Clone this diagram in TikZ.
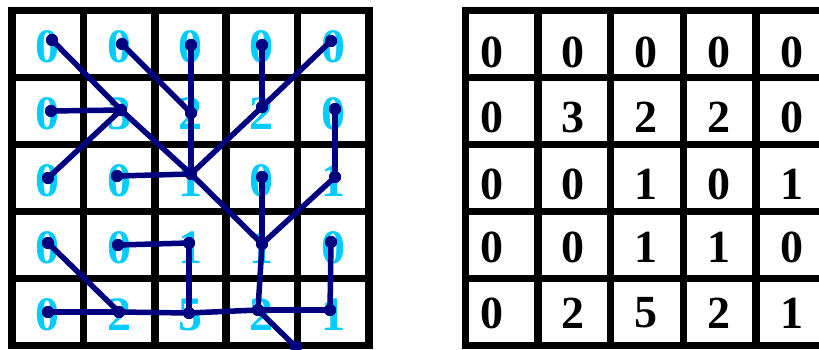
\documentclass[tikz,border=0pt]{standalone}
\usepackage{fontspec}
\setmainfont{Liberation Serif}
\definecolor{flownavy}{RGB}{0,0,128}
\definecolor{numcyan}{RGB}{0,204,255}
\tikzset{
  gridline/.style={line width=7.5pt, black, line cap=rect},
  leftnum/.style={text=numcyan, font=\bfseries\fontsize{48}{48}\selectfont, inner sep=0pt},
  rightnum/.style={text=black, font=\bfseries\fontsize{46}{46}\selectfont, inner sep=0pt},
  flow/.style={draw=flownavy, line width=5.5pt, line cap=round, line join=round},
  flowdot/.style={circle, fill=flownavy, minimum size=12pt, inner sep=0pt},
}
\begin{document}
\begin{tikzpicture}[x=1pt,y=-1pt]
\useasboundingbox (0,0) rectangle (819,350);
\clip (0,0) rectangle (819,350);
\fill[white] (0,0) rectangle (819,350);
% ---- left grid
\foreach \i in {0,...,5} {
  \draw[gridline] ({12+71.4*\i},10.5) -- ({12+71.4*\i},345.5);
  \draw[gridline] (12,{10.5+67*\i}) -- (369,{10.5+67*\i});
}
% ---- right grid
\foreach \i in {0,...,5} {
  \draw[gridline] ({465.5+72.6*\i},10.5) -- ({465.5+72.6*\i},345.5);
  \draw[gridline] (465.5,{10.5+67*\i}) -- (828.5,{10.5+67*\i});
}
% ---- numbers (left, cyan)
\foreach \r/\row in {0/{0,0,0,0,0},1/{0,3,2,2,0},2/{0,0,1,0,1},3/{0,0,1,1,0},4/{0,2,5,2,1}} {
  \foreach \v [count=\c from 0] in \row {
    \node[leftnum] (L\r\c) at ({12+71.4*(\c+0.5)},{10.5+67*(\r+0.5)+3}) {\v};
  }
}
% ---- numbers (right, black bold)
\foreach \r/\yy/\row in {0/52/{0,0,0,0,0},1/117/{0,3,2,2,0},2/184/{0,0,1,0,1},3/247/{0,0,1,1,0},4/313/{0,2,5,2,1}} {
  \foreach \v/\xx [count=\c from 0] in {0/492,0/573.4,0/646,0/718.6,0/792} {
    \coordinate (R\r\c) at (\xx,\yy);
  }
  \foreach \v [count=\c from 0] in \row {
    \node[rightnum] (RN\r\c) at (R\r\c) {\v};
  }
}
% ---- flow dots
\node[flowdot] (d00) at (52,40) {};
\node[flowdot] (d01) at (122,44) {};
\node[flowdot] (d02) at (191,45) {};
\node[flowdot] (d03) at (262,45) {};
\node[flowdot] (d04) at (331,41) {};
\node[flowdot] (d10) at (51,111) {};
\node[flowdot] (d11) at (121,110) {};
\node[flowdot] (d12) at (191,113) {};
\node[flowdot] (d13) at (262,107) {};
\node[flowdot] (d14) at (335,109) {};
\node[flowdot] (d20) at (48,178) {};
\node[flowdot] (d21) at (117,176) {};
\node[flowdot] (d22) at (191,174) {};
\node[flowdot] (d23) at (262,177) {};
\node[flowdot] (d24) at (335,177) {};
\node[flowdot] (d30) at (48,243) {};
\node[flowdot] (d31) at (118,245) {};
\node[flowdot] (d32) at (189,243) {};
\node[flowdot] (d33) at (262,244) {};
\node[flowdot] (d34) at (331,242) {};
\node[flowdot] (d40) at (48,312) {};
\node[flowdot] (d41) at (119,312) {};
\node[flowdot] (d42) at (189,313) {};
\node[flowdot] (d43) at (258,310) {};
\node[flowdot] (d44) at (330,310) {};
\node[flowdot] (outlet) at (296,347) {};
% ---- flow connectors
\foreach \a/\b in {d00/d11, d11/d22, d22/d33, d33/d43, d43/outlet,
                   d10/d11, d20/d11,
                   d01/d12, d02/d12, d12/d22,
                   d03/d13, d04/d13, d13/d22,
                   d21/d22,
                   d23/d33, d24/d33, d14/d24,
                   d30/d41, d40/d41, d41/d42, d42/d43,
                   d31/d32, d32/d42,
                   d34/d44, d44/d43} {
  \draw[flow] (\a.center) -- (\b.center);
}
% redraw dots on top
\foreach \n in {d00,d01,d02,d03,d04,d10,d11,d12,d13,d14,d20,d21,d22,d23,d24,d30,d31,d32,d33,d34,d40,d41,d42,d43,d44,outlet} {
  \fill[flownavy] (\n.center) circle (6pt);
}
\end{tikzpicture}
\end{document}
